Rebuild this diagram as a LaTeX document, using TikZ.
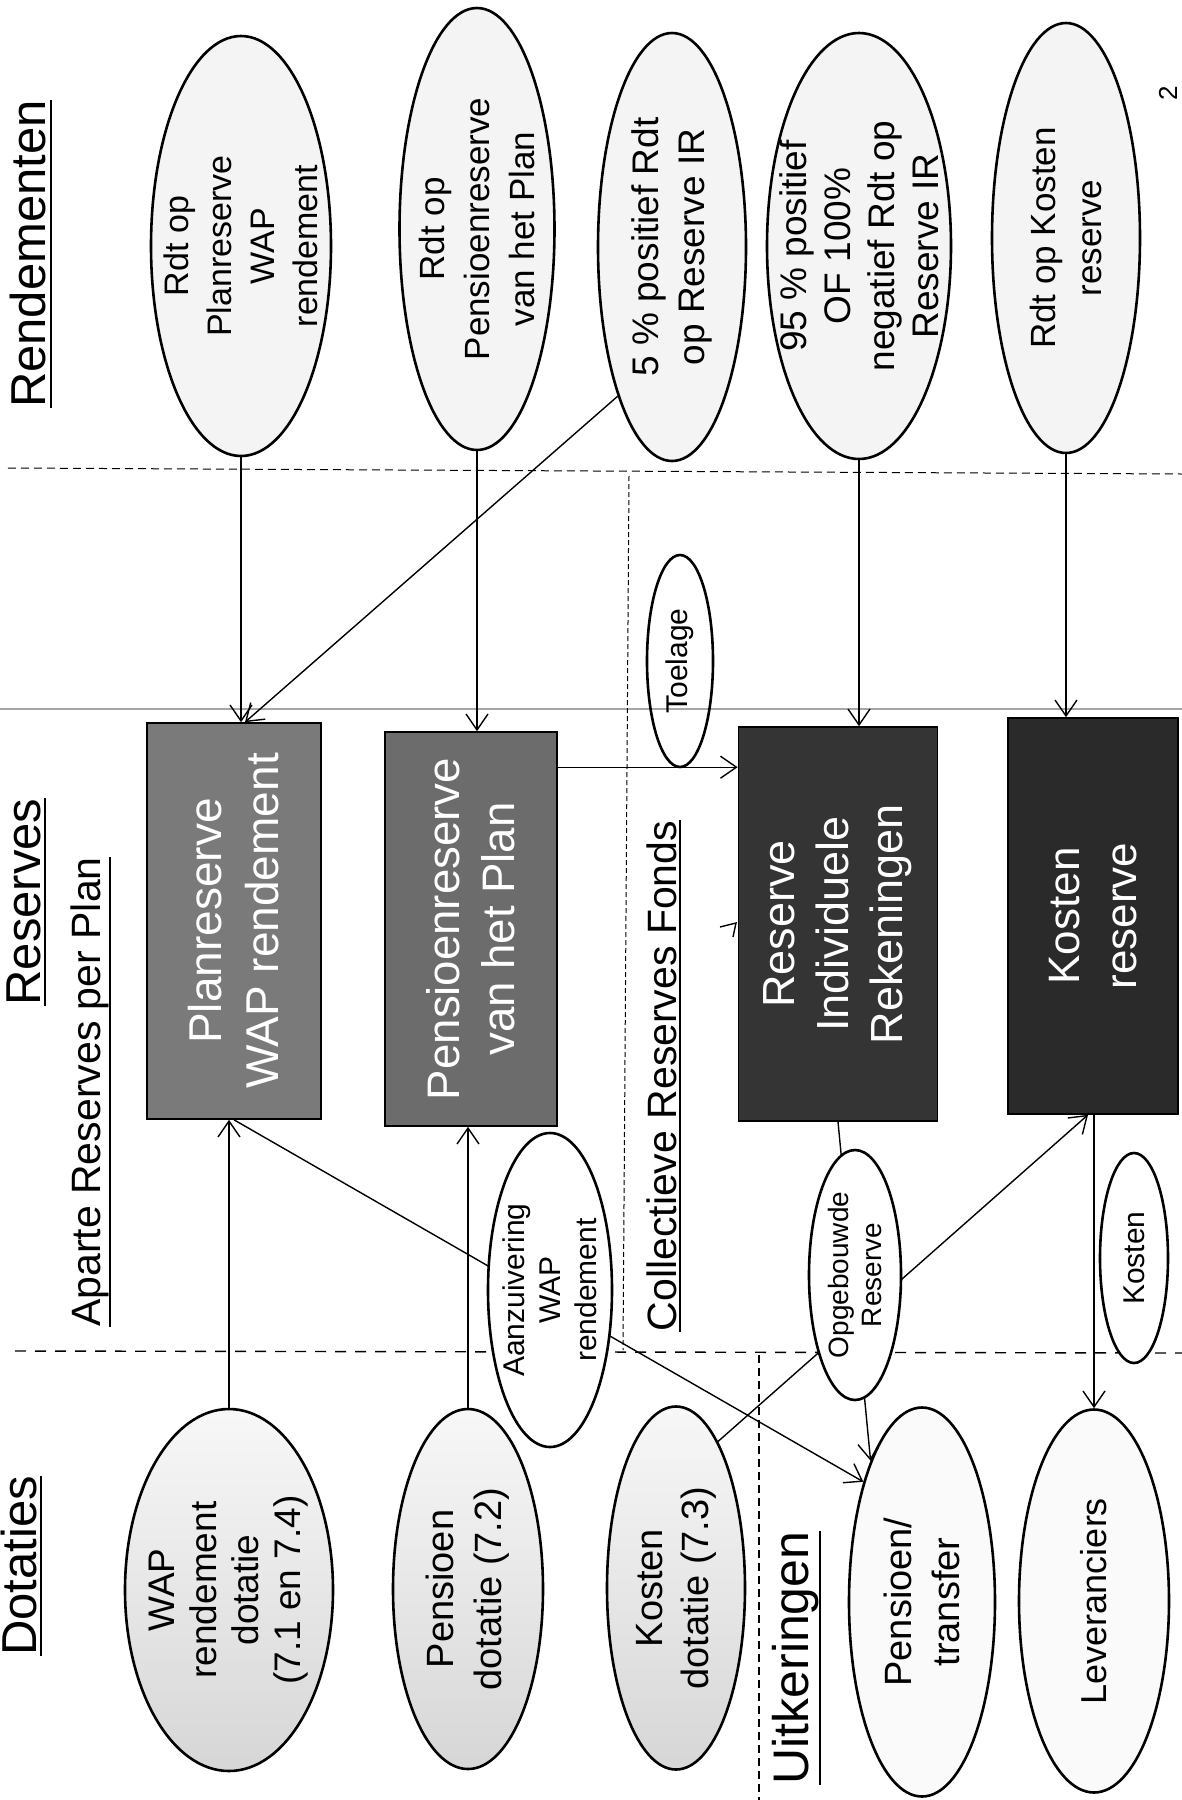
\documentclass[tikz,border=0pt]{standalone}
\usepackage{fontspec}
\setmainfont{Liberation Sans}
\usepackage{graphicx}
\usetikzlibrary{shapes.geometric, arrows.meta, calc}
\definecolor{boxa}{HTML}{7A7A7A}
\definecolor{boxb}{HTML}{6C6C6C}
\definecolor{boxc}{HTML}{343434}
\definecolor{boxd}{HTML}{2A2A2A}
\begin{document}
\begin{tikzpicture}[x=0.5pt,y=-0.5pt,
  ell/.style={ellipse, draw, line width=1.3pt, inner sep=0pt},
  rbox/.style={rectangle, draw=black, line width=0.8pt, inner sep=0pt},
  conn/.style={line width=0.7pt},
  arr/.style={conn, -{Straight Barb[length=8pt,width=11pt]}},
  txt/.style 2 args={rotate=90, align=center, inner sep=0pt, font=\fontsize{#1}{#2}\selectfont},
  wtxt/.style 2 args={txt={#1}{#2}, text=white},
  ttl/.style={rotate=90, anchor=base, inner sep=0pt, font=\fontsize{24.5pt}{29pt}\selectfont},
  subttl/.style={rotate=90, anchor=base, inner sep=0pt, font=\fontsize{20.5pt}{25pt}\selectfont},
  uline/.style={line width=1.1pt},
  rendell/.style={ell, fill=gray!9},
  dotell/.style={ell, top color=gray!6, bottom color=gray!32},
  uitell/.style={ell, fill=gray!4},
  tagell/.style={ell, fill=white},
]
\fill[white] (0,0) rectangle (1182,1800);
\useasboundingbox (0,0) rectangle (1182,1800);

% section lines
\draw[line width=0.5pt, dash pattern=on 4pt off 2.5pt] (8,468) -- (1182,474);
\draw[line width=0.6pt, gray!70] (0,709) -- (1182,709);
\draw[line width=0.5pt, dash pattern=on 2.5pt off 1.5pt] (629,476) -- (623,1350);
\draw[line width=0.7pt, dash pattern=on 5.5pt off 4.5pt] (15,1351) -- (1182,1353);
\draw[line width=0.6pt, dash pattern=on 4pt off 2.5pt] (759,1355) -- (759,1800);

% Rendementen ellipses
\node[rendell, minimum width=90pt, minimum height=210pt] (e1) at (241,246) {};
\node[txt={17pt}{21.5pt}] (e1t) at (e1) {Rdt op\\Planreserve\\WAP\\rendement};
\node[rendell, minimum width=77.5pt, minimum height=221pt] (e2) at (477,229) {};
\node[txt={17.5pt}{22.5pt}] (e2t) at (e2) {Rdt op\\Pensioenreserve\\van het Plan};
\node[rendell, minimum width=74pt, minimum height=214pt] (e3) at (672,247) {};
\node[txt={18.5pt}{23pt}] (e3t) at (e3) {5 \% positief Rdt\\op Reserve IR};
\node[rendell, minimum width=92pt, minimum height=213pt] (e4) at (859,246) {};
\node[txt={18.5pt}{22pt}] (e4t) at (e4) {95 \% positief\\OF 100\%\\negatief Rdt op\\Reserve IR};
\node[rendell, minimum width=74pt, minimum height=215pt] (e5) at (1066,238) {};
\node[txt={17.5pt}{23pt}] (e5t) at (e5) {Rdt op Kosten\\reserve};

% Reserve boxes
\node[rbox, fill=boxa, minimum width=87pt, minimum height=198pt] (b1) at (234,921) {};
\node[wtxt={23pt}{28.5pt}] (b1t) at (b1) {Planreserve\\WAP rendement};
\node[rbox, fill=boxb, minimum width=86pt, minimum height=197pt] (b2) at (471,929) {};
\node[wtxt={22.8pt}{27.5pt}] (b2t) at (b2) {Pensioenreserve\\van het Plan};
\node[rbox, fill=boxc, minimum width=99.5pt, minimum height=197pt] (b3) at (838,924) {};
\node[wtxt={22.5pt}{27pt}] (b3t) at (b3) {Reserve\\Individuele\\Rekeningen};
\node[rbox, fill=boxd, minimum width=85pt, minimum height=198pt] (b4) at (1093,916) {};
\node[wtxt={22pt}{28.5pt}] (b4t) at (b4) {Kosten\\reserve};

% Dotatie ellipses
\node[dotell, minimum width=104pt, minimum height=181pt] (d1) at (229,1590) {};
\node[txt={18.5pt}{21pt}] (d1t) at (d1) {WAP\\rendement\\dotatie\\(7.1 en 7.4)};
\node[dotell, minimum width=75pt, minimum height=180pt] (d2) at (468,1589) {};
\node[txt={19pt}{24pt}] (d2t) at (d2) {Pensioen\\dotatie (7.2)};
\node[dotell, minimum width=69pt, minimum height=181.5pt] (d3) at (676,1588) {};
\node[txt={19pt}{23pt}] (d3t) at (d3) {Kosten\\dotatie (7.3)};

% Uitkeringen ellipses
\node[uitell, minimum width=73pt, minimum height=194.5pt] (pt) at (922,1602) {};
\node[txt={19pt}{24pt}] (ptt) at (pt) {Pensioen/\\transfer};
\node[uitell, minimum width=75pt, minimum height=191.5pt] (lev) at (1094,1601) {};
\node[txt={18pt}{22pt}] (levt) at (lev) {Leveranciers};

% connectors
\draw[arr] (e1) -- (e1 |- b1.north);
\draw[arr] (e2) -- (e2 |- b2.north);
\draw[arr] (e3.250) -- ([xshift=5.5pt]b1.north);
\draw[arr] (e4) -- (e4 |- b3.north);
\draw[arr] (e5) -- (e5 |- b4.north);
\coordinate (c23) at ([yshift=-18pt]b2.north east);
\draw[arr] (c23) -- (c23 -| b3.west);
\draw[arr] (d1) -- (d1 |- b1.south);
\draw[arr] (d2) -- (d2 |- b2.south);
\draw[arr] (b1.south) -- (pt.116);
\draw[arr] (b3.south) -- (pt.110);
\draw[arr] (d3.74) -- ([xshift=-2.5pt]b4.south);
\draw[arr] (lev.north |- b4.south) -- (lev.north);
\draw[conn] (720,927) -- (736,923) -- (733,937);

% label ellipses on connectors
\node[ell, minimum width=33pt, minimum height=106pt] (toe) at (680,661) {};
\node[txt={15pt}{18pt}] (toet) at (toe) {Toelage};
\node[tagell, minimum width=62pt, minimum height=157pt] (aanz) at (550,1290) {};
\node[txt={15pt}{18pt}] (aanzt) at (aanz) {Aanzuivering\\WAP\\rendement};
\node[tagell, minimum width=46pt, minimum height=125pt] (opg) at (855,1275) {};
\node[txt={14pt}{16.5pt}] (opgt) at (opg) {Opgebouwde\\Reserve};
\node[tagell, minimum width=34pt, minimum height=105pt] (kos) at (1134,1258) {};
\node[txt={15pt}{18pt}] (kost) at (kos) {Kosten};

% titles
\node[ttl] (tr) at (46,254) {Rendementen};
\draw[uline] ([xshift=2pt]tr.south west) -- ([xshift=2pt]tr.south east);
\node[ttl] (tres) at (40,902) {Reserves};
\draw[uline] ([xshift=2pt]tres.south west) -- ([xshift=2pt]tres.south east);
\node[ttl] (tdot) at (36,1566) {Dotaties};
\draw[uline] ([xshift=2pt]tdot.south west) -- ([xshift=2pt]tdot.south east);
\node[subttl] (tap) at (100,1092) {Aparte Reserves per Plan};
\draw[uline] ([xshift=0.5pt]tap.south west) -- ([xshift=0.5pt]tap.south east);
\node[subttl] (tcol) at (676,1076) {Collectieve Reserves Fonds};
\draw[uline] ([xshift=1.5pt]tcol.south west) -- ([xshift=1.5pt]tcol.south east);
\node[ttl, font=\fontsize{25pt}{30pt}\selectfont] (tuit) at (808,1658) {Uitkeringen};
\draw[uline] ([xshift=0.5pt]tuit.south west) -- ([xshift=0.5pt]tuit.south east);

\node[rotate=90, inner sep=0pt, font=\fontsize{13pt}{15pt}\selectfont] (pg) at (1168,93) {2};
\end{tikzpicture}
\end{document}
